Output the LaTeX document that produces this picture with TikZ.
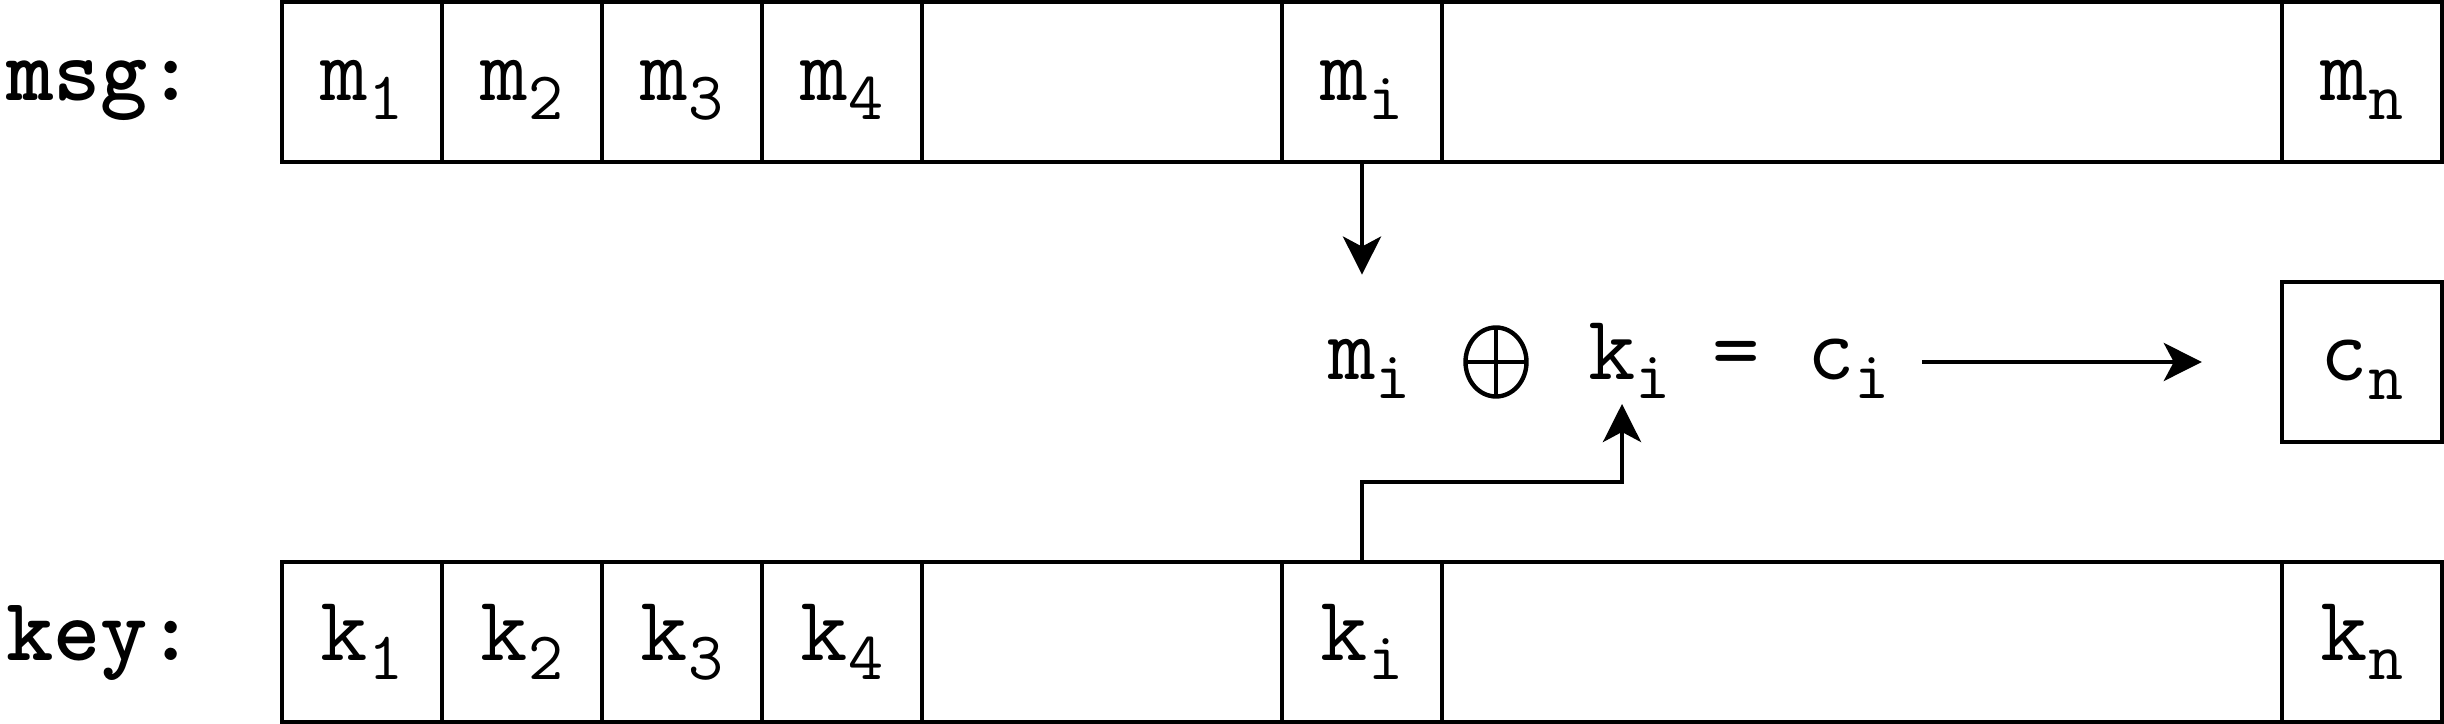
\documentclass[tikz,border=0pt]{standalone}
\usepackage{fontspec}
\usetikzlibrary{arrows.meta,shapes.geometric}
\newcommand\lsub[1]{\raisebox{-4.75pt}{\fontsize{17pt}{17pt}\selectfont #1}}
\begin{document}
\begin{tikzpicture}[x=0.25pt,y=-0.25pt, line width=1.1pt,
  cell/.style={draw, rectangle, inner sep=0pt, minimum height=40pt, minimum width=#1*0.25pt,
    text height=12pt, text depth=2.5pt, font=\ttfamily\fontsize{23pt}{23pt}\selectfont},
  cell/.default=160,
  lbl/.style={anchor=base west, inner sep=0pt, font=\ttfamily\bfseries\fontsize{22.5pt}{22.5pt}\selectfont},
  eqt/.style={anchor=base west, inner sep=0pt, font=\ttfamily\fontsize{23pt}{23pt}\selectfont},
  arr/.style={-{Stealth[length=9.5pt,width=9.5pt,inset=2.5pt]}}]
\useasboundingbox (0,0) rectangle (2444,724);

% labels
\node[lbl] (msg) at (4,101) {msg:};
\node[lbl] (key) at (4,661) {key:};

% message row
\node[cell] (m1) at (362,82) {m\lsub{1}};
\node[cell] (m2) at (522,82) {m\lsub{2}};
\node[cell] (m3) at (682,82) {m\lsub{3}};
\node[cell] (m4) at (842,82) {m\lsub{4}};
\node[cell=360] (mgapa) at (1102,82) {};
\node[cell] (mi) at (1362,82) {m\lsub{i}};
\node[cell=840] (mgapb) at (1862,82) {};
\node[cell] (mn) at (2362,82) {m\lsub{n}};

% key row
\node[cell] (k1) at (362,642) {k\lsub{1}};
\node[cell] (k2) at (522,642) {k\lsub{2}};
\node[cell] (k3) at (682,642) {k\lsub{3}};
\node[cell] (k4) at (842,642) {k\lsub{4}};
\node[cell=360] (kgapa) at (1102,642) {};
\node[cell] (ki) at (1362,642) {k\lsub{i}};
\node[cell=840] (kgapb) at (1862,642) {};
\node[cell] (kn) at (2362,642) {k\lsub{n}};

% equation
\node[eqt] (eqm) at (1326,380) {m\lsub{i}};
\node[draw, ellipse, minimum width=15.25pt, minimum height=17.25pt, inner sep=0pt,
  path picture={\draw (path picture bounding box.west) -- (path picture bounding box.east)
    (path picture bounding box.north) -- (path picture bounding box.south);}] (xor) at (1496,362) {};
\node[eqt] (eqk) at (1586,380) {k\lsub{i}};
\node[eqt, anchor=base] (eqeq) at (1736,380) {=};
\node[eqt] (eqc) at (1805,380) {c\lsub{i}};

% result cell
\node[cell] (cn) at (2362,362) {c\lsub{n}};

% connectors
\draw[arr, shorten >=15.75pt] (mi.south) -- (mi.south |- eqm.north);
\coordinate (kturn) at (1622,482);
\coordinate (kin) at (1622,404);
\draw[arr] (ki.north) |- (kturn) -- (kin);
\coordinate (cstart) at (1922,362);
\draw[arr, shorten >=19.5pt] (cstart) -- (cn.west);
\end{tikzpicture}
\end{document}
